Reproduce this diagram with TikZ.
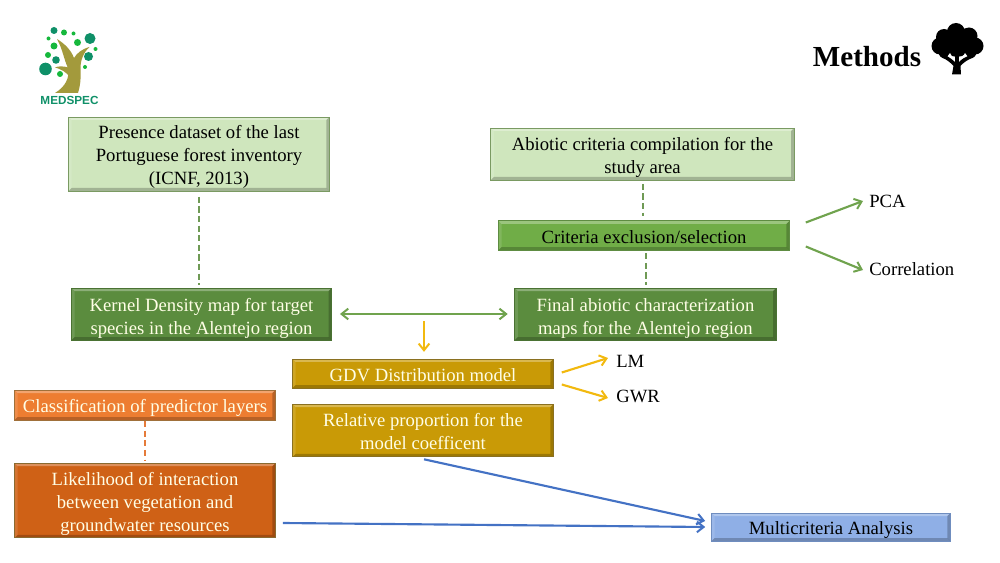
\documentclass[tikz,border=0pt]{standalone}
\usepackage{fontspec}
\setmainfont{Liberation Serif}
\newfontfamily\logofont{Liberation Sans}
\usetikzlibrary{arrows.meta,calc}
\newcommand\liftline[1]{\rule{0pt}{#1}}
\definecolor{lgfill}{HTML}{CFE6BD}
\definecolor{lgedge}{HTML}{7A9A62}
\definecolor{mgfill}{HTML}{70AD47}
\definecolor{mgedge}{HTML}{5E8C42}
\definecolor{dgfill}{HTML}{5B8C3E}
\definecolor{dgedge}{HTML}{4A7233}
\definecolor{gofill}{HTML}{C99A06}
\definecolor{goedge}{HTML}{8A7020}
\definecolor{orfill}{HTML}{ED7D31}
\definecolor{oredge}{HTML}{A0703A}
\definecolor{dofill}{HTML}{CF6116}
\definecolor{doedge}{HTML}{8A6A30}
\definecolor{blfill}{HTML}{8FAFE6}
\definecolor{bledge}{HTML}{6F8DBF}
\definecolor{linegreen}{HTML}{70A34E}
\definecolor{dashgreen}{HTML}{6F9A55}
\definecolor{linegold}{HTML}{F2B90F}
\definecolor{lineorange}{HTML}{E57B3A}
\definecolor{lineblue}{HTML}{4472C4}
\definecolor{leafA}{HTML}{0F9068}
\definecolor{leafB}{HTML}{16B83C}
\definecolor{trunk}{HTML}{A39A3C}
\tikzset{
  x=0.75pt,y=-0.75pt,
  bevel/.style={path picture={
    \coordinate (nw) at (path picture bounding box.north west);
    \coordinate (ne) at (path picture bounding box.north east);
    \coordinate (sw) at (path picture bounding box.south west);
    \coordinate (se) at (path picture bounding box.south east);
    \fill[white,opacity=.30] (nw) -- (ne) -- ($(ne)+(-3,3)$) -- ($(nw)+(3,3)$) -- cycle;
    \fill[white,opacity=.12] (nw) -- (sw) -- ($(sw)+(3,-3)$) -- ($(nw)+(3,3)$) -- cycle;
    \fill[black,opacity=.22] (ne) -- (se) -- ($(se)+(-3,-3)$) -- ($(ne)+(-3,3)$) -- cycle;
    \fill[black,opacity=.22] (sw) -- (se) -- ($(se)+(-3,-3)$) -- ($(sw)+(3,-3)$) -- cycle;
  }},
  flowbox/.style={draw=#1,line width=0.7pt,bevel,align=center,inner sep=0pt,font=\fontsize{14}{17.2}\selectfont},
  darktext/.style={text=black},
  lighttext/.style={text=white!90!yellow},
  tag/.style={font=\fontsize{14}{16}\selectfont,anchor=west,inner sep=0pt},
  dashline/.style={dash pattern=on 4.6pt off 2.6pt,line width=1.5pt},
  arrowline/.style={line width=1.6pt,-{Straight Barb[length=5pt,width=8pt,line width=1.5pt]}},
  bluearrow/.style={line width=1.6pt,lineblue,-{Straight Barb[length=5pt,width=8pt,line width=1.5pt]}},
  leafa/.style={fill=leafA,draw=none},
  leafb/.style={fill=leafB,draw=none},
}
\begin{document}
\begin{tikzpicture}
\useasboundingbox (0,0) rectangle (1000,563);
% boxes
\node[flowbox=lgedge,fill=lgfill,darktext,minimum width=195.5pt,minimum height=55.5pt] (presence) at (199,154) {\liftline{14pt}Presence dataset of the last\\Portuguese forest inventory\\(ICNF, 2013)};
\node[flowbox=lgedge,fill=lgfill,darktext,minimum width=227.5pt,minimum height=39pt] (abiotic) at (642.5,154) {\liftline{14.5pt}Abiotic criteria compilation for the\\study area};
\node[flowbox=mgedge,fill=mgfill,darktext,minimum width=218pt,minimum height=21.8pt] (criteria) at (644,235.5) {\liftline{12.5pt}Criteria exclusion/selection};
\node[flowbox=dgedge,fill=dgfill,lighttext,minimum width=195pt,minimum height=39pt] (kernel) at (201.5,314) {\liftline{16pt}Kernel Density map for target\\species in the Alentejo region};
\node[flowbox=dgedge,fill=dgfill,lighttext,minimum width=196pt,minimum height=39pt] (final) at (645.5,314) {\liftline{16pt}Final abiotic characterization\\maps for the Alentejo region};
\node[flowbox=goedge,fill=gofill,lighttext,minimum width=195.5pt,minimum height=21.8pt] (gdv) at (423,373.5) {\liftline{12.5pt}GDV Distribution model};
\node[flowbox=goedge,fill=gofill,lighttext,minimum width=195.5pt,minimum height=39.5pt] (relative) at (423,430.5) {\liftline{12pt}Relative proportion for the\\model coefficent};
\node[flowbox=oredge,fill=orfill,lighttext,minimum width=195.5pt,minimum height=22.5pt] (classif) at (145,405) {\liftline{14pt}Classification of predictor layers};
\node[flowbox=doedge,fill=dofill,lighttext,minimum width=195.5pt,minimum height=56pt] (likeli) at (145,500.5) {\liftline{15.5pt}Likelihood of interaction\\between vegetation and\\groundwater resources};
\node[flowbox=bledge,fill=blfill,darktext,minimum width=179pt,minimum height=21pt] (multi) at (831,527) {\liftline{14pt}Multicriteria Analysis};
% labels
\node[tag] (pca) at (869,201) {PCA};
\node[tag] (corr) at (869,269) {Correlation};
\node[tag] (lm) at (616,361) {LM};
\node[tag] (gwr) at (616,396) {GWR};
\node[font=\fontsize{21.8}{26}\selectfont\bfseries,inner sep=0pt] (title) at (867,57) {Methods};
% connectors
\draw[dashline,dashgreen,shorten <=4pt,shorten >=2pt] (presence.south) -- (presence.south |- kernel.north);
\draw[dashline,dashgreen,shorten <=2.5pt,shorten >=3pt] (abiotic.south) -- (abiotic.south |- criteria.north);
\draw[dashline,dashgreen,shorten <=2pt,shorten >=2pt] (final.north |- criteria.south) -- (final.north);
\draw[dashline,lineorange,shorten <=0.5pt,shorten >=1pt] (classif.south) -- (likeli.north);
\draw[linegreen,line width=1.6pt,{Straight Barb[length=5pt,width=8pt,line width=1.5pt]}-{Straight Barb[length=5pt,width=8pt,line width=1.5pt]},shorten <=6pt,shorten >=5pt] (kernel.east) -- (final.west);
\coordinate (split) at (424,321);
\draw[arrowline,linegold,shorten >=5pt] (split) -- (split |- gdv.north);
\draw[arrowline,linegreen] ($(criteria.east)+(16,-13)$) -- ($(pca.west)+(-6,0)$);
\draw[arrowline,linegreen] ($(criteria.east)+(16,11)$) -- ($(corr.west)+(-6,1)$);
\draw[arrowline,linegold] ($(gdv.east)+(8,-1)$) -- ($(lm.west)+(-8,-3)$);
\draw[arrowline,linegold] ($(gdv.east)+(8,11)$) -- ($(gwr.west)+(-8,2)$);
\draw[bluearrow] ($(relative.south)+(1,2)$) -- ($(multi.west)+(-6,-6)$);
\draw[bluearrow] ($(likeli.east)+(7,22.5)$) -- ($(multi.west)+(-6,0)$);
% logo
\fill[trunk] (55,93) .. controls (65,87) and (70,78) .. (68,68) .. controls (64,60) and (63,50) .. (57,39) .. controls (65,44) and (71,50) .. (74,58) .. controls (77,53) and (82,49) .. (89.5,47) .. controls (84,52) and (80,60) .. (80.5,70) .. controls (81,80) and (80,87) .. (78,93) -- cycle;
\fill[trunk] (69,67.5) .. controls (63,66) and (58,66) .. (55,67.5) .. controls (61,69) and (66,72) .. (70,77) -- cycle;
\fill[leafa] (54,30.5) circle (3.5);
\fill[leafb] (64,32.5) circle (3);
\fill[leafb] (73.5,33.5) circle (2);
\fill[leafa] (90,38.5) circle (5.5);
\fill[leafb] (48.5,38.5) circle (2);
\fill[leafb] (54,46) circle (3.5);
\fill[leafb] (77.5,42.5) circle (3.5);
\fill[leafb] (95.5,49) circle (2);
\fill[leafb] (48,55) circle (3);
\fill[leafa] (56,60) circle (3.8);
\fill[leafa] (88.5,56.5) circle (4.5);
\fill[leafb] (85,67) circle (2);
\fill[leafa] (45.5,69) circle (6.3);
\fill[leafb] (60,74) circle (3);
\node[font=\fontsize{8.8}{10}\logofont\bfseries,text=leafA,inner sep=0pt] (logo) at (69.5,100.5) {MEDSPEC};
% tree icon
\fill[black] (956,32) circle (9) (944,37) circle (8) (969,36) circle (8.5) (940,46) circle (8.5) (975,46) circle (8.5) (945,52) circle (6.5) (970,52) circle (6.5) (957,44) circle (13);
\fill[white] (946,58.5) -- (950,53) -- (954,60) -- cycle (969,58.5) -- (965,53) -- (961,60) -- cycle (957,54) -- (955.5,60) -- (958.5,60) -- cycle;
\fill[black] (952,74.5) -- (953.5,66) .. controls (950,62) and (947,60) .. (943,58) -- (947,56) .. controls (950,58) and (953,60) .. (955,62) -- (955.5,50) -- (958.5,50) -- (959,62) .. controls (962,59) and (965,57) .. (968,56) -- (972,58) .. controls (967,60) and (963,63) .. (960.5,66) -- (961,74.5) -- cycle;
\end{tikzpicture}
\end{document}
